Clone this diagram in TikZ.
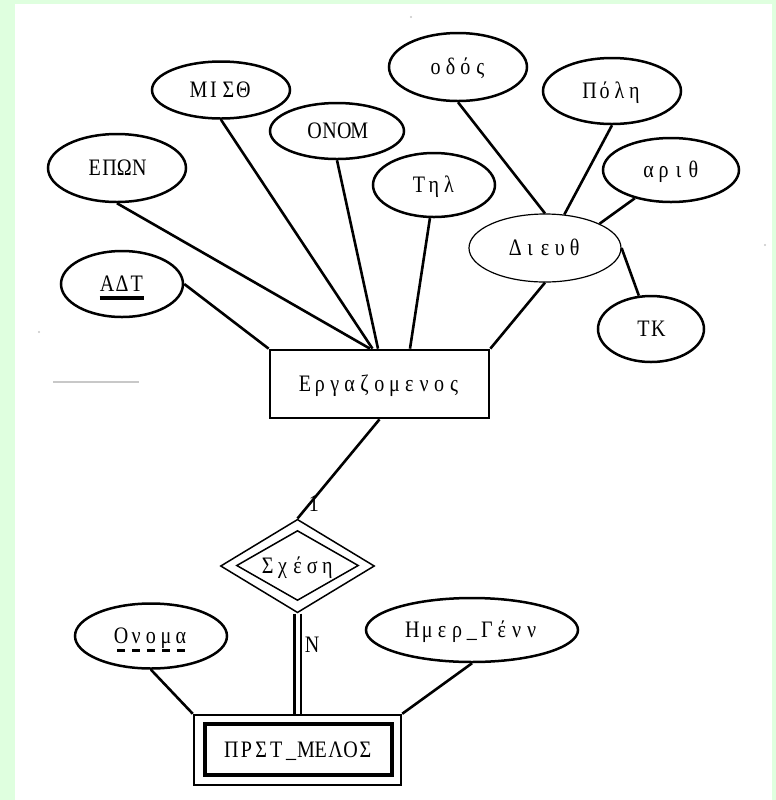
\documentclass[tikz,border=0pt]{standalone}
\usepackage{fontspec}
\newfontfamily\erserif[FakeStretch=0.85]{Liberation Serif}
\usetikzlibrary{shapes.geometric,calc}

\definecolor{framegreen}{RGB}{223,255,223}
\definecolor{smudge}{RGB}{200,200,200}

% typewriter-like setting: every character centred in a cell of fixed width
\newcommand\cells[1]{\cellsloop#1\relax}
\def\cellsloop#1{\ifx#1\relax\else\hbox to 7.45pt{\hss#1\hss}\expandafter\cellsloop\fi}

% thick underline for the key attribute
\newsavebox\ulbox
\newcommand\keyul[1]{\sbox\ulbox{#1}\rlap{\smash{\rule[-4pt]{\wd\ulbox}{1.8pt}}}\usebox\ulbox}
% dashed underline for the partial key
\newcommand\partialul[1]{\sbox\ulbox{#1}\rlap{\smash{\hbox to \wd\ulbox{\xleaders\hbox to 7.45pt{\hss\raisebox{-4pt}{\rule{4pt}{1.1pt}}\hss}\hfil}}}\usebox\ulbox}

\begin{document}
\begin{tikzpicture}[x=0.5pt,y=-0.5pt,
  every node/.style={font=\erserif\fontsize{11.8}{13}\selectfont,
    text height=8.5pt, text depth=1pt},
  attr/.style={draw, ellipse, line width=1.25pt, inner sep=0pt},
  thinattr/.style={draw, ellipse, line width=0.6pt, inner sep=0pt},
  entity/.style={draw, rectangle, line width=1.35pt, inner sep=0pt},
  rhombus/.style={draw, diamond, line width=0.75pt, inner sep=0pt},
  link/.style={line width=1.3pt},
  tag/.style={inner sep=0pt}]

\useasboundingbox (0,0) rectangle (776,800);
\fill[framegreen] (0,0) rectangle (776,800);
\fill[white] (15,4) rectangle (772,800);

% stray marks on the sheet
\draw[smudge, line width=1pt] (53,382) -- (139,382);
\fill[smudge] (39,332) circle (1.2);
\fill[smudge] (411,17) circle (1.2);
\fill[smudge] (765,245) circle (1.2);

% entity Εργαζομενος and its attributes
\node[entity, minimum width=109.5pt, minimum height=34pt] (erg) at (379.5,384) {\cells{Εργαζομενος}};

\node[attr, minimum width=61pt, minimum height=33pt] (adt) at (122,284) {\keyul{\cells{ΑΔΤ}}};
\node[attr, minimum width=69pt, minimum height=34pt] (epon) at (117,168) {\cells{ΕΠΩΝ}};
\node[attr, minimum width=69pt, minimum height=28.5pt] (mis) at (221,90) {\cells{ΜΙΣΘ}};
\node[attr, minimum width=67pt, minimum height=28pt] (onom) at (337,131) {\cells{ΟΝΟΜ}};
\node[attr, minimum width=61pt, minimum height=32pt] (til) at (434,185) {\cells{Τηλ}};

% composite attribute Διευθ
\node[thinattr, minimum width=76pt, minimum height=34pt] (dieu) at (545,248) {\cells{Διευθ}};
\node[attr, minimum width=69pt, minimum height=34pt] (odos) at (458,67) {\cells{οδός}};
\node[attr, minimum width=69pt, minimum height=33pt] (poli) at (612,91) {\cells{Πόλη}};
\node[attr, minimum width=68pt, minimum height=32pt] (arith) at (671,170) {\cells{αριθ}};
\node[attr, minimum width=53pt, minimum height=33pt] (tk) at (651,329) {\cells{ΤΚ}};

% identifying relationship
\node[rhombus, minimum width=77pt, minimum height=42pt] (rel) at (297.5,566) {\cells{Σχέση}};
\node[rhombus, minimum width=61pt, minimum height=35pt] (relin) at (297.5,565.5) {};

% weak entity and its attributes
\node[entity, line width=1.25pt, minimum width=103.5pt, minimum height=35pt] (prst) at (297.5,750) {};
\node[entity, line width=1.75pt, minimum width=93.5pt, minimum height=25.5pt] (prstin) at (298.5,749.5) {\cells{ΠΡΣΤ\_ΜΕΛΟΣ}};

\node[attr, minimum width=76pt, minimum height=32.5pt] (onoma) at (151,636) {\partialul{\cells{Ονομα}}};
\node[attr, minimum width=106pt, minimum height=32pt] (imer) at (472,630) {\cells{Ημερ\_Γένν}};

% attribute links
\draw[link] (adt.east) -- (erg.north west);
\draw[link] (epon.south) -- ($(erg.north)+(-9.5,0)$);
\draw[link] (mis.south) -- ($(erg.north)+(-7,0)$);
\draw[link] (onom.south) -- ($(erg.north)+(-1.5,0)$);
\draw[link] (til.263) -- ($(erg.north)+(30.5,0)$);
\draw[link] (dieu.south) -- (erg.north east);
\draw[link] (odos.south) -- (dieu.north);
\draw[link] (poli.south) -- (dieu.60);
\draw[link] (arith.218) -- (dieu.24);
\draw[link] (dieu.east) -- (tk.110);
\draw[link] (onoma.south) -- (prst.north west);
\draw[link] (imer.south) -- (prst.north east);

% relationship links with cardinalities
\draw[link] (erg.south) -- node[tag, pos=0.85, xshift=2pt] (one) {1} (rel.north);
\draw[link, double, double distance=2pt] (rel.south) -- (prst.north);
\node[tag] (many) at (312,645) {N};

\end{tikzpicture}
\end{document}
